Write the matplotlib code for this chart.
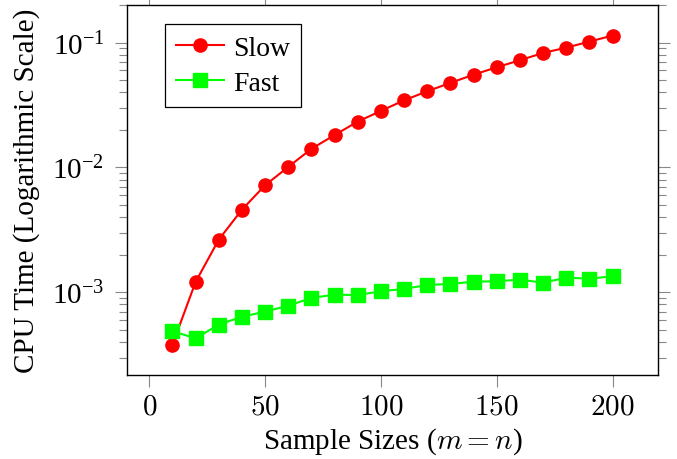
import matplotlib
matplotlib.use("Agg")
from matplotlib import pyplot as plt
from matplotlib.ticker import LogLocator, NullFormatter

plt.rcParams['font.family'] = ['Liberation Serif', 'DejaVu Serif']
plt.rcParams['mathtext.fontset'] = 'cm'

sizes = [10, 20, 30, 40, 50, 60, 70, 80, 90, 100,
         110, 120, 130, 140, 150, 160, 170, 180, 190, 200]
slow = [3.80e-4, 1.21e-3, 2.64e-3, 4.59e-3, 7.2e-3, 1.01e-2, 1.41e-2, 1.82e-2, 2.33e-2, 2.84e-2,
        3.45e-2, 4.08e-2, 4.76e-2, 5.54e-2, 6.35e-2, 7.23e-2, 8.27e-2, 9.12e-2, 0.102, 0.114]
fast = [4.87e-4, 4.28e-4, 5.50e-4, 6.37e-4, 6.99e-4, 7.81e-4, 9.00e-4, 9.57e-4, 9.5e-4, 1.019e-3,
        1.063e-3, 1.144e-3, 1.166e-3, 1.216e-3, 1.225e-3, 1.262e-3, 1.194e-3, 1.309e-3, 1.285e-3, 1.343e-3]
xticks = [0, 50, 100, 150, 200]

fig = plt.figure(figsize=(6.77, 4.60), dpi=100)
ax = fig.add_axes([0.188, 0.1826, 0.7835, 0.8044])

ax.plot(sizes, slow, color='#ff0000', lw=1.5, marker='o', ms=9.5, label='Slow')
ax.plot(sizes, fast, color='#00ff00', lw=1.5, marker='s', ms=10, label='Fast')

ax.set_yscale('log')
ax.set_xlim(-9.5, 219.5)
ax.set_ylim(10 ** -3.663, 10 ** -0.698)
ax.set_xticks(xticks)
ax.set_xticklabels([f'${t}$' for t in xticks])
ax.yaxis.set_minor_locator(LogLocator(base=10, subs=range(2, 10)))
ax.yaxis.set_minor_formatter(NullFormatter())

ax.tick_params(which='both', direction='out', top=True, right=True,
               color='#888888', labelsize=21)
ax.tick_params(which='major', length=8.5, width=0.8, pad=5)
ax.tick_params(axis='y', which='major', pad=8)
ax.tick_params(which='minor', length=5.5, width=0.8)
for s in ax.spines.values():
    s.set_linewidth(1.0)

ax.set_xlabel('Sample Sizes ($m = n$)', fontsize=21)
ax.set_ylabel('CPU Time (Logarithmic Scale)', fontsize=21)
ax.xaxis.set_label_coords(0.5, -0.135)
ax.yaxis.set_label_coords(-0.165, 0.5)

leg = ax.legend(loc='upper left', bbox_to_anchor=(0.0707, 0.948), fontsize=20,
                fancybox=False, edgecolor='black', framealpha=1,
                handlelength=1.75, borderpad=0.4, labelspacing=0.35,
                handletextpad=0.3, borderaxespad=0)
leg.get_frame().set_linewidth(0.9)

plt.savefig('out.png', dpi=100)
